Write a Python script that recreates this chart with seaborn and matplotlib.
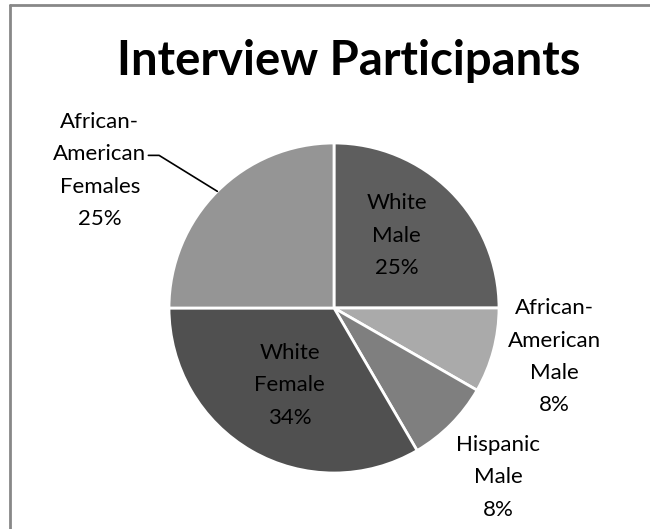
import numpy as np
import matplotlib.pyplot as plt
import seaborn as sns

groups = ["White\nMale", "African-\nAmerican\nMale", "Hispanic\nMale", "White\nFemale", "African-\nAmerican\nFemales"]
shares = [25, 8.3, 8.3, 33.4, 25]
pct_labels = ["25%", "8%", "8%", "34%", "25%"]
greys = ["#5e5e5e", "#aaaaaa", "#7f7f7f", "#505050", "#959595"]
label_radius = [0.58, 1.37, 1.43, 0.54, 1.645]
label_angle_shift = [4, 2.5, -1, 0, 14.6]

sns.set_theme(style="white")
plt.rcParams["font.family"] = ["Lato", "DejaVu Sans"]

fig = plt.figure(figsize=(6.5, 5.29), dpi=100)
W, H = 650, 529
cx, cy, R = 334, 308, 165
ax = fig.add_axes([(cx - R) / W, (H - cy - R) / H, 2 * R / W, 2 * R / H])

wedges, _ = ax.pie(shares, colors=greys, startangle=90, counterclock=False,
                   wedgeprops=dict(edgecolor="white", linewidth=2))
ax.set_xlim(-1, 1)
ax.set_ylim(-1, 1)
ax.set_aspect("equal")
ax.set_axis_off()

for w, g, p, r, s in zip(wedges, groups, pct_labels, label_radius, label_angle_shift):
    mid = np.deg2rad((w.theta1 + w.theta2) / 2 + s)
    ax.text(r * np.cos(mid), r * np.sin(mid), f"{g}\n{p}", ha="center", va="center",
            fontsize=16, linespacing=1.77, color="black", clip_on=False)

# leader line for the African-American Females label
last = wedges[-1]
mid = np.deg2rad((last.theta1 + last.theta2) / 2)
ax.plot([-1.125, -1.06, np.cos(mid)], [0.925, 0.925, np.sin(mid)], color="black", lw=1.2, clip_on=False)

fig.text(0.537, 0.885, "Interview Participants", ha="center", va="center",
         fontsize=34, fontweight="bold", color="black")

# frame: left and top edges
fig.add_artist(plt.Line2D([9.5 / W, 9.5 / W], [0, 1 - 5 / H], color="#888888", lw=2))
fig.add_artist(plt.Line2D([9.5 / W, 1], [1 - 5 / H, 1 - 5 / H], color="#888888", lw=2))

plt.savefig("out.png", dpi=100)
plt.close(fig)
